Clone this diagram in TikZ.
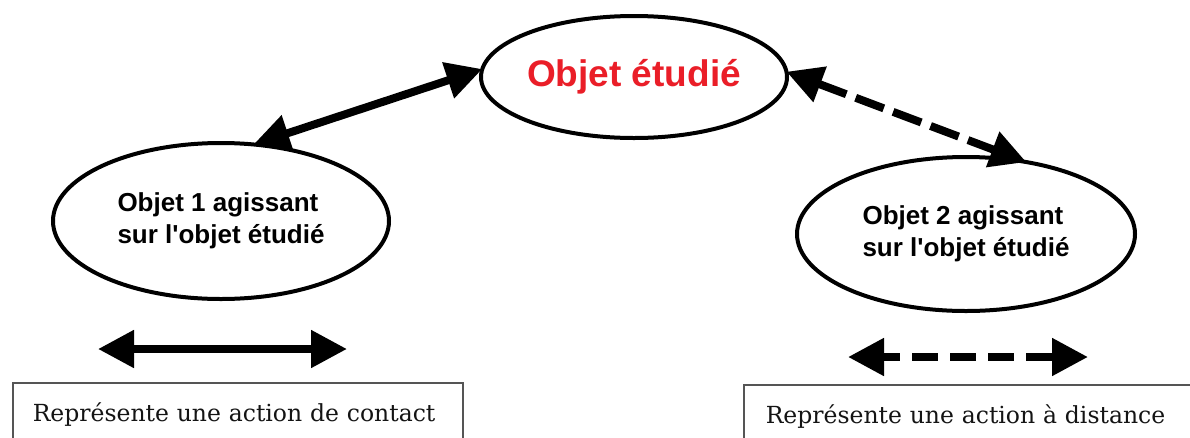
\documentclass[tikz,border=0pt]{standalone}
\usepackage{fontspec}
\setmainfont{DejaVu Serif}
\setsansfont{Liberation Sans}[Ligatures=TeXOff]
\usetikzlibrary{shapes.geometric,arrows.meta}
\definecolor{objred}{RGB}{234,30,40}
\definecolor{boxgray}{RGB}{85,85,85}
\tikzset{
  obj/.style={ellipse, draw, line width=4pt, inner sep=0pt, outer sep=0pt,
    font=\sffamily\bfseries\fontsize{26}{32}\selectfont, align=left},
  dbl/.style={line width=8pt,
    arrows={Triangle[length=36pt,width=36pt]-Triangle[length=36pt,width=36pt]}},
  dashedlink/.style={dbl, dash pattern=on 30pt off 10pt},
  legend/.style={draw=boxgray, line width=1.5pt, rectangle, anchor=north west,
    inner xsep=20pt, inner ysep=0pt, align=left,
    font=\fontsize{23.5}{28}\selectfont, text=black!92}
}
\begin{document}
\begin{tikzpicture}[x=1pt,y=-1pt]
\useasboundingbox (0,0) rectangle (1190,437);
\clip (0,0) rectangle (1190,437);
\fill[white] (0,0) rectangle (1190,437);
% ellipses
\node[obj, minimum width=306pt, minimum height=122pt, text=objred,
  font=\sffamily\bfseries\fontsize{37}{44}\selectfont] (C) at (634,77) {Objet étudié};
\node[obj, minimum width=336pt, minimum height=156pt] (L) at (221,221)
  {Objet 1 agissant\\sur l'objet étudié};
\node[obj, minimum width=338pt, minimum height=154pt] (R) at (966,234)
  {Objet 2 agissant\\sur l'objet étudié};
% links
\draw[dbl] (C.177) -- (L.67.6);
\draw[dashedlink] (C.2.6) -- (R.50);
% legend arrows
\coordinate (s1) at (98,349);
\coordinate (s2) at (347,349);
\coordinate (d1) at (848,357);
\coordinate (d2) at (1088,357);
\draw[dbl] (s1) -- (s2);
\draw[dbl, dash pattern=on 26pt off 12pt, dash phase=8pt] (d1) -- (d2);
% legend boxes
\node[legend, minimum width=450pt, minimum height=64pt, text width=410pt] (B1) at (12,382)
  {Représente une action de contact};
\node[legend, minimum width=500pt, minimum height=64pt, text width=460pt, inner xsep=22pt] (B2) at (743,384)
  {Représente une action à distance};
\end{tikzpicture}
\end{document}
